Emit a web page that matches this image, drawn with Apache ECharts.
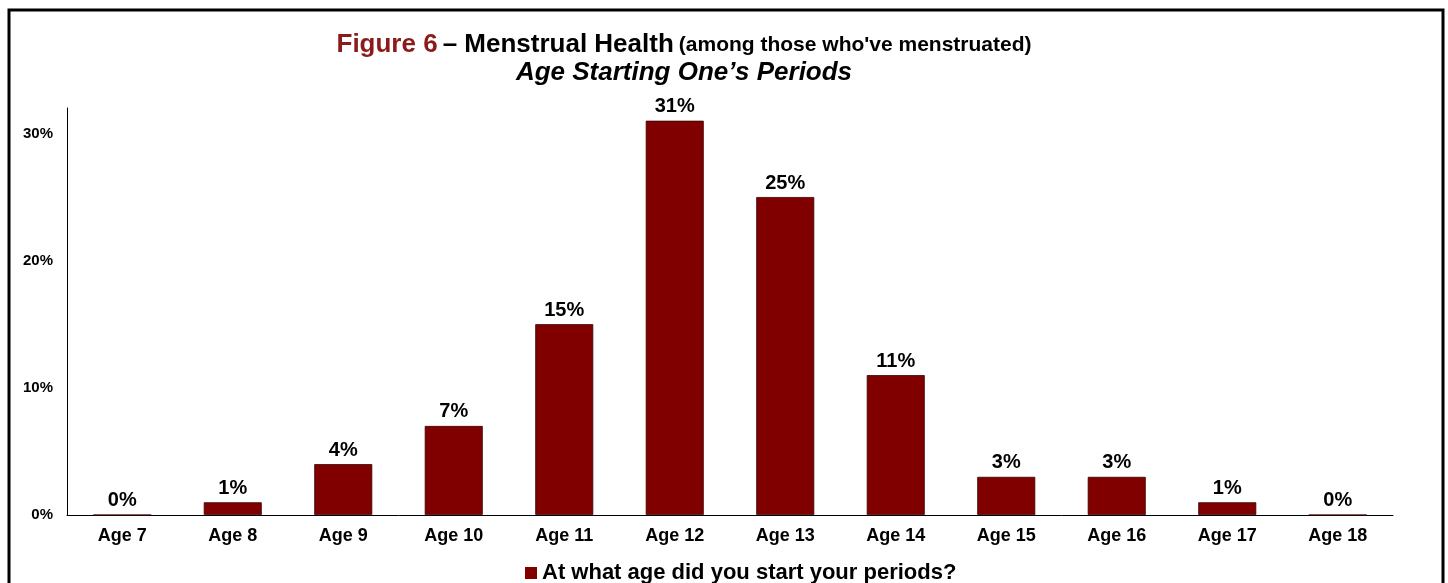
<!DOCTYPE html>
<html>
<head>
<meta charset="utf-8">
<script src="https://cdn.jsdelivr.net/npm/echarts@6/dist/echarts.min.js"></script>
<style>
html, body { margin: 0; padding: 0; background: #fff; }
#chart { width: 1448px; height: 583px; }
</style>
</head>
<body>
<div id="chart"></div>
<script>
var ages = ['Age 7', 'Age 8', 'Age 9', 'Age 10', 'Age 11', 'Age 12',
            'Age 13', 'Age 14', 'Age 15', 'Age 16', 'Age 17', 'Age 18'];
var shares = [0, 1, 4, 7, 15, 31, 25, 11, 3, 3, 1, 0];
var seriesName = 'At what age did you start your periods?';

var myChart = echarts.init(document.getElementById('chart'));
var font = 'Liberation Sans, Arial, sans-serif';

var option = {
    backgroundColor: '#fff',
    animation: false,
    title: {
        left: 679,
        top: 26,
        textAlign: 'center',
        text: '{red|Figure 6} {blk|– Menstrual Health} {sm|(among those who\'ve menstruated)}\n{it|Age Starting One\u2019s Periods}',
        textStyle: {
            fontFamily: font,
            lineHeight: 28,
            rich: {
                red: { color: '#8b1a1a', fontSize: 26, fontWeight: 'bold', fontFamily: font, lineHeight: 28 },
                blk: { color: '#000', fontSize: 26, fontWeight: 'bold', fontFamily: font, lineHeight: 28 },
                sm: { color: '#000', fontSize: 21, fontWeight: 'bold', fontFamily: font, lineHeight: 28 },
                it: { color: '#000', fontSize: 26, fontWeight: 'bold', fontStyle: 'italic', fontFamily: font, lineHeight: 28 }
            }
        }
    },
    legend: {
        top: 557,
        left: 520,
        itemWidth: 12,
        itemHeight: 12,
        itemGap: 2,
        itemStyle: { borderWidth: 0 },
        textStyle: { fontFamily: font, fontSize: 22, fontWeight: 'bold', color: '#000' },
        data: [{ name: seriesName, icon: 'rect' }]
    },
    grid: { left: 67, right: 55, top: 108, bottom: 68 },
    xAxis: {
        type: 'category',
        data: ages,
        axisLine: { lineStyle: { color: '#000', width: 1 } },
        axisTick: { show: false },
        axisLabel: { color: '#000', fontFamily: font, fontSize: 18, fontWeight: 'bold', margin: 12 }
    },
    yAxis: {
        type: 'value',
        min: 0,
        max: 32,
        interval: 10,
        axisLine: { show: true, lineStyle: { color: '#000', width: 1 } },
        axisTick: { show: false },
        splitLine: { show: false },
        axisLabel: {
            color: '#000', fontFamily: font, fontSize: 15, fontWeight: 'bold',
            margin: 14, showMaxLabel: false,
            formatter: '{value}%'
        }
    },
    series: [{
        name: seriesName,
        type: 'bar',
        data: shares,
        barWidth: 58,
        itemStyle: { color: '#800000', borderColor: '#3a0000', borderWidth: 0.8 },
        label: {
            show: true,
            position: 'top',
            distance: 4,
            color: '#000',
            fontFamily: font,
            fontSize: 20,
            fontWeight: 'bold',
            formatter: '{c}%'
        }
    }],
    graphic: [{
        type: 'rect',
        shape: { x: 9, y: 10, width: 1434, height: 600 },
        style: { fill: null, stroke: '#000', lineWidth: 3 },
        silent: true
    }]
};

myChart.setOption(option);
</script>
</body>
</html>
